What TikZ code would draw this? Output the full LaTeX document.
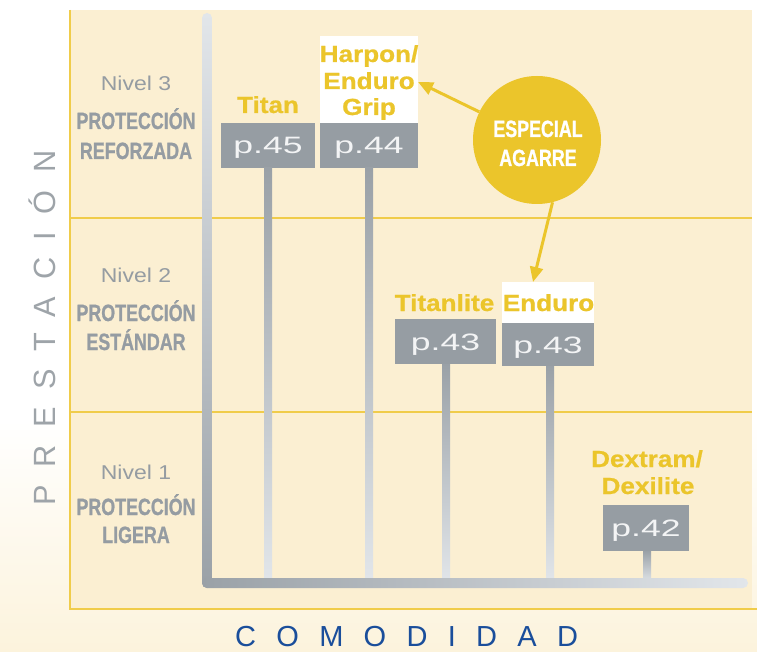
\documentclass[tikz,border=0pt]{standalone}
\usepackage{fontspec}
\setmainfont{Liberation Sans}
\newfontfamily\yfont[FakeStretch=1.12,FakeBold=0.8]{Liberation Sans}
\newfontfamily\condfont[FakeStretch=0.76,FakeBold=1.0]{Liberation Sans}
\newfontfamily\pfont[FakeStretch=1.5]{Liberation Sans}
\newfontfamily\nivfont[FakeStretch=1.15]{Liberation Sans}
\newfontfamily\prestfont[LetterSpace=57]{Liberation Sans}
\newfontfamily\comfont[LetterSpace=70]{Liberation Sans}
\usetikzlibrary{arrows.meta}
\definecolor{panel}{HTML}{FBEFD2}
\definecolor{bgcream}{HTML}{FCF3DC}
\definecolor{yline}{HTML}{F0CC4A}
\definecolor{yel}{HTML}{EBC52B}
\definecolor{boxgray}{HTML}{969DA3}
\definecolor{lblgray}{HTML}{959CA2}
\definecolor{axdark}{HTML}{9AA1A7}
\definecolor{axlight}{HTML}{E2E6EA}
\definecolor{ptext}{HTML}{F3F4F5}
\definecolor{blue1}{HTML}{1A4E9B}
\definecolor{prestgray}{HTML}{9EA4A9}
\tikzset{
  pbox/.style={fill=boxgray, inner sep=0, text=ptext, text depth=0pt, text height=17pt,
    font=\pfont\fontsize{23.7}{26}\selectfont},
  ylabel/.style={inner sep=0, text=yel, font=\yfont\bfseries\fontsize{23.3}{26}\selectfont},
  nivlabel/.style={inner sep=0, text=lblgray, font=\nivfont\fontsize{20}{22}\selectfont},
  condg/.style={inner sep=0, text=lblgray, font=\condfont\bfseries\fontsize{23.5}{26}\selectfont},
  condw/.style={inner sep=0, text=white, font=\condfont\bfseries\fontsize{23.5}{26}\selectfont},
  whitebg/.style={fill=white, inner sep=0},
  arr/.style={draw=yel, line width=3pt, -{Triangle[length=15pt,width=13pt]}},
  stem/.style={top color=axdark, bottom color=axlight},
  divline/.style={draw=yline, line width=1.6pt}
}
\begin{document}
\begin{tikzpicture}[x=1pt,y=-1pt]
\useasboundingbox (0,0) rectangle (757,652);
% background
\fill[white] (0,0) rectangle (757,652);
\shade[top color=white, bottom color=bgcream] (0,420) rectangle (757,652);
% panel
\fill[panel] (70,10) rectangle (752,609);
\draw[divline] (70,218) -- (752,218);
\draw[divline] (70,412) -- (752,412);
\draw[divline] (70,10) -- (70,609.8);
\draw[divline] (69.2,609) -- (757,609);
% white label backgrounds
\node[whitebg, minimum width=98, minimum height=87] (harpbg) at (369,79.5) {};
\node[whitebg, minimum width=92, minimum height=41] (endbg) at (548,302.5) {};
% boxes
\node[pbox, minimum width=94, minimum height=45] (b45) at (268,145.5) {p.45};
\node[pbox, minimum width=98, minimum height=45] (b44) at (369,145.5) {p.44};
\node[pbox, minimum width=101, minimum height=45] (b43a) at (445.5,341.5) {p.43};
\node[pbox, minimum width=92, minimum height=43] (b43b) at (548,344.5) {p.43};
\node[pbox, minimum width=86, minimum height=46] (b42) at (646,528) {p.42};
% stems
\shade[stem] (264,168) rectangle (272,583);
\shade[stem] (365,168) rectangle (373,583);
\shade[stem] (442,364) rectangle (450,583);
\shade[stem] (546,366) rectangle (554,583);
\shade[stem] (643,551) rectangle (651,583);
% axes
\shade[top color=axlight, bottom color=axdark, rounded corners=5pt] (202,13) rectangle (212,588);
\shade[left color=axdark, right color=axlight, rounded corners=5pt] (202,578) rectangle (748,588);
% product labels
\node[ylabel, anchor=base] (titan) at (268,113) {Titan};
\node[ylabel, anchor=base] (harp1) at (369,62) {Harpon/};
\node[ylabel, anchor=base] (harp2) at (369,89) {Enduro};
\node[ylabel, anchor=base] (harp3) at (369,115) {Grip};
\node[ylabel, anchor=base] (tlite) at (444.5,311) {Titanlite};
\node[ylabel, anchor=base] (endu) at (548.5,311) {Enduro};
\node[ylabel, anchor=base] (dex1) at (647,467) {Dextram/};
\node[ylabel, anchor=base] (dex2) at (648,494) {Dexilite};
% level labels
\node[nivlabel, anchor=base] (n3) at (136,91) {Nivel 3};
\node[condg, anchor=base] (p3) at (136,129) {PROTECCIÓN};
\node[condg, anchor=base] (r3) at (136,159) {REFORZADA};
\node[nivlabel, anchor=base] (n2) at (136,283) {Nivel 2};
\node[condg, anchor=base] (p2) at (136,321) {PROTECCIÓN};
\node[condg, anchor=base] (r2) at (136,350) {ESTÁNDAR};
\node[nivlabel, anchor=base] (n1) at (136,479) {Nivel 1};
\node[condg, anchor=base] (p1) at (136,515) {PROTECCIÓN};
\node[condg, anchor=base] (r1) at (136,543) {LIGERA};
% special circle
\node[circle, fill=yel, minimum size=128, inner sep=0] (esp) at (537,140) {};
\node[condw, anchor=base] (esp1) at (538,137) {ESPECIAL};
\node[condw, anchor=base] (esp2) at (538,166) {AGARRE};
\coordinate (t1) at (418,82);
\coordinate (t2) at (533,282);
\draw[arr] (esp) -- (t1);
\draw[arr] (esp.-76) -- (t2);
% axis titles
\node[rotate=90, anchor=base west, inner sep=0, text=prestgray,
  font=\prestfont\fontsize{30.7}{32}\selectfont] (prest) at (55,505.5) {PRESTACIÓN};
\node[anchor=base west, inner sep=0, text=blue1,
  font=\comfont\fontsize{29}{31}\selectfont] (comod) at (235,646.5) {COMODIDAD};
\end{tikzpicture}
\end{document}
